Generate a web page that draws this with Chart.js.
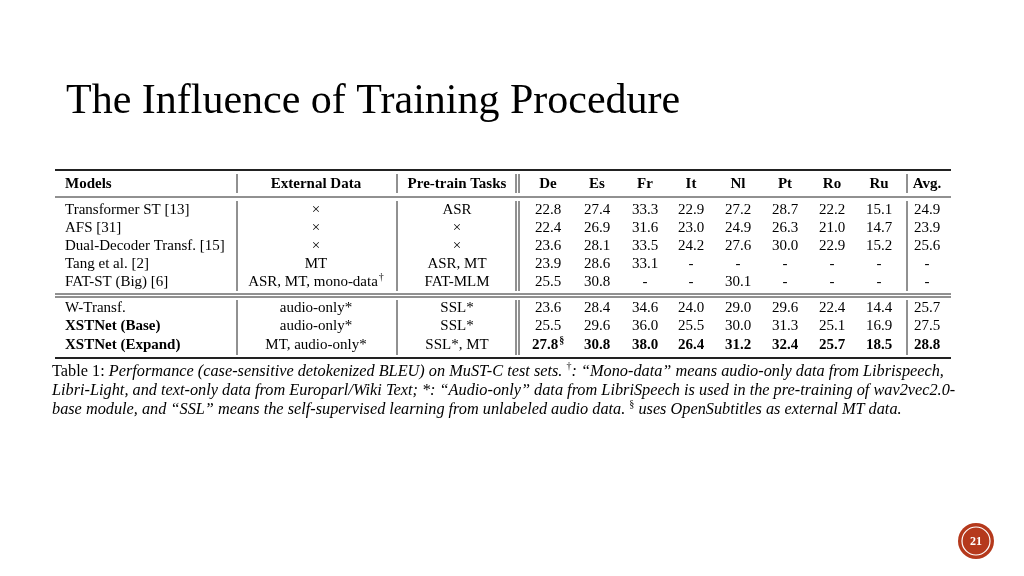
<!DOCTYPE html>
<html>
<head>
<meta charset="utf-8">
<script src="https://cdn.jsdelivr.net/npm/chart.js@4"></script>
<style>
  body { margin: 0; background: #fff; }
  #c { display: block; }
</style>
</head>
<body>
<canvas id="c" width="1024" height="576"></canvas>
<script>
// table content
let models = ['Transformer ST [13]', 'AFS [31]', 'Dual-Decoder Transf. [15]', 'Tang et al. [2]', 'FAT-ST (Big) [6]',
              'W-Transf.', 'XSTNet (Base)', 'XSTNet (Expand)'];
let externalData = ['×', '×', '×', 'MT', 'ASR, MT, mono-data†', 'audio-only*', 'audio-only*', 'MT, audio-only*'];
let pretrainTasks = ['ASR', '×', '×', 'ASR, MT', 'FAT-MLM', 'SSL*', 'SSL*', 'SSL*, MT'];
let languages = ['De', 'Es', 'Fr', 'It', 'Nl', 'Pt', 'Ro', 'Ru', 'Avg.'];
let bleu = [
  ['22.8', '27.4', '33.3', '22.9', '27.2', '28.7', '22.2', '15.1', '24.9'],
  ['22.4', '26.9', '31.6', '23.0', '24.9', '26.3', '21.0', '14.7', '23.9'],
  ['23.6', '28.1', '33.5', '24.2', '27.6', '30.0', '22.9', '15.2', '25.6'],
  ['23.9', '28.6', '33.1', '-', '-', '-', '-', '-', '-'],
  ['25.5', '30.8', '-', '-', '30.1', '-', '-', '-', '-'],
  ['23.6', '28.4', '34.6', '24.0', '29.0', '29.6', '22.4', '14.4', '25.7'],
  ['25.5', '29.6', '36.0', '25.5', '30.0', '31.3', '25.1', '16.9', '27.5'],
  ['27.8§', '30.8', '38.0', '26.4', '31.2', '32.4', '25.7', '18.5', '28.8']
];
let boldModels = ['XSTNet (Base)', 'XSTNet (Expand)'];
let boldValuesRow = 'XSTNet (Expand)';

// layout (page coordinates)
let colX = [548, 597, 645, 691, 738, 785, 832, 879, 927];
let rowY = [210, 228, 246, 264, 282, 308, 326, 345];
let headY = 184;
let serif = '"Liberation Serif", "DejaVu Serif", serif';

function txt(ctx, xs, ys, x, y, s, font, align) {
  ctx.font = font;
  ctx.textAlign = align || 'center';
  ctx.textBaseline = 'middle';
  let sup = '';
  if (s.endsWith('†') || s.endsWith('§')) { sup = s.slice(-1); s = s.slice(0, -1); }
  let px = xs.getPixelForValue(x), py = ys.getPixelForValue(y);
  if (sup && ctx.textAlign === 'center') {
    let w = ctx.measureText(s).width;
    ctx.textAlign = 'left';
    px -= w / 2 + 3;
  }
  ctx.fillText(s, px, py);
  if (sup) {
    let w = ctx.measureText(s).width;
    ctx.font = font.replace(/\d+(\.\d+)?px/, '10px');
    ctx.textAlign = 'left';
    ctx.fillText(sup, px + w + 1, py - 5);
  }
}

function hline(ctx, xs, ys, x1, x2, y, w) {
  ctx.lineWidth = w;
  ctx.beginPath();
  ctx.moveTo(xs.getPixelForValue(x1), ys.getPixelForValue(y));
  ctx.lineTo(xs.getPixelForValue(x2), ys.getPixelForValue(y));
  ctx.stroke();
}
function vline(ctx, xs, ys, x, y1, y2) {
  ctx.lineWidth = 1;
  ctx.beginPath();
  ctx.moveTo(xs.getPixelForValue(x), ys.getPixelForValue(y1));
  ctx.lineTo(xs.getPixelForValue(x), ys.getPixelForValue(y2));
  ctx.stroke();
}

let slidePlugin = {
  id: 'slide',
  afterDraw(chart) {
    let ctx = chart.ctx, xs = chart.scales.x, ys = chart.scales.y;
    ctx.save();
    ctx.fillStyle = '#000';
    ctx.strokeStyle = '#222';

    txt(ctx, xs, ys, 66, 102, 'The Influence of Training Procedure', '42px ' + serif, 'left');

    // rules
    hline(ctx, xs, ys, 55, 951, 170, 2);
    hline(ctx, xs, ys, 55, 951, 197, 1);
    hline(ctx, xs, ys, 55, 951, 294, 1);
    hline(ctx, xs, ys, 55, 951, 297, 1);
    hline(ctx, xs, ys, 55, 951, 358, 2);
    [[174, 193], [201, 291], [300, 355]].forEach(function (seg) {
      [237, 397, 516, 519, 907].forEach(function (x) { vline(ctx, xs, ys, x, seg[0], seg[1]); });
    });

    // header
    let hf = 'bold 15px ' + serif;
    txt(ctx, xs, ys, 65, headY, 'Models', hf, 'left');
    txt(ctx, xs, ys, 316, headY, 'External Data', hf);
    txt(ctx, xs, ys, 457, headY, 'Pre-train Tasks', hf);
    languages.forEach(function (l, i) { txt(ctx, xs, ys, colX[i], headY, l, hf); });

    // body
    models.forEach(function (m, r) {
      let bm = boldModels.indexOf(m) >= 0;
      let f = (bm ? 'bold ' : '') + '15px ' + serif;
      txt(ctx, xs, ys, 65, rowY[r], m, f, 'left');
      txt(ctx, xs, ys, 316, rowY[r], externalData[r], '15px ' + serif);
      txt(ctx, xs, ys, 457, rowY[r], pretrainTasks[r], '15px ' + serif);
      let vf = (m === boldValuesRow ? 'bold ' : '') + '15px ' + serif;
      bleu[r].forEach(function (v, i) { txt(ctx, xs, ys, colX[i], rowY[r], v, vf); });
    });

    // caption
    let cap = [
      [['Table 1: ', ''], ['Performance (case-sensitive detokenized BLEU) on MuST-C test sets. ', 'italic '], ['†', 'sup'],
       [': \u201cMono-data\u201d means audio-only data from Librispeech,', 'italic ']],
      [['Libri-Light, and text-only data from Europarl/Wiki Text; *: \u201cAudio-only\u201d data from LibriSpeech is used in the pre-training of wav2vec2.0-', 'italic ']],
      [['base module, and \u201cSSL\u201d means the self-supervised learning from unlabeled audio data. ', 'italic '], ['§', 'sup'],
       [' uses OpenSubtitles as external MT data.', 'italic ']]
    ];
    let capY = [372, 391, 410];
    ctx.textAlign = 'left';
    ctx.textBaseline = 'middle';
    cap.forEach(function (line, li) {
      let px = xs.getPixelForValue(52), py = ys.getPixelForValue(capY[li]);
      line.forEach(function (seg) {
        if (seg[1] === 'sup') {
          ctx.font = '10px ' + serif;
          ctx.fillText(seg[0], px, py - 6);
        } else {
          ctx.font = seg[1] + '16.3px ' + serif;
          ctx.fillText(seg[0], px, py);
        }
        px += ctx.measureText(seg[0]).width;
      });
    });

    // page badge
    let cx = xs.getPixelForValue(976), cy = ys.getPixelForValue(541);
    ctx.fillStyle = '#b5391c';
    ctx.beginPath(); ctx.arc(cx, cy, 18, 0, Math.PI * 2); ctx.fill();
    ctx.strokeStyle = '#fff'; ctx.lineWidth = 1.2;
    ctx.beginPath(); ctx.arc(cx, cy, 14, 0, Math.PI * 2); ctx.stroke();
    ctx.fillStyle = '#fff';
    ctx.font = 'bold 12px ' + serif;
    ctx.textAlign = 'center';
    ctx.fillText('21', cx, cy + 1);
    ctx.restore();
  }
};

new Chart(document.getElementById('c').getContext('2d'), {
  type: 'scatter',
  data: { datasets: [] },
  options: {
    responsive: false,
    animation: false,
    layout: { padding: 0 },
    plugins: { legend: { display: false }, tooltip: { enabled: false } },
    scales: {
      x: { type: 'linear', min: 0, max: 1024, display: false },
      y: { type: 'linear', min: 0, max: 576, reverse: true, display: false }
    }
  },
  plugins: [slidePlugin]
});
</script>
</body>
</html>
